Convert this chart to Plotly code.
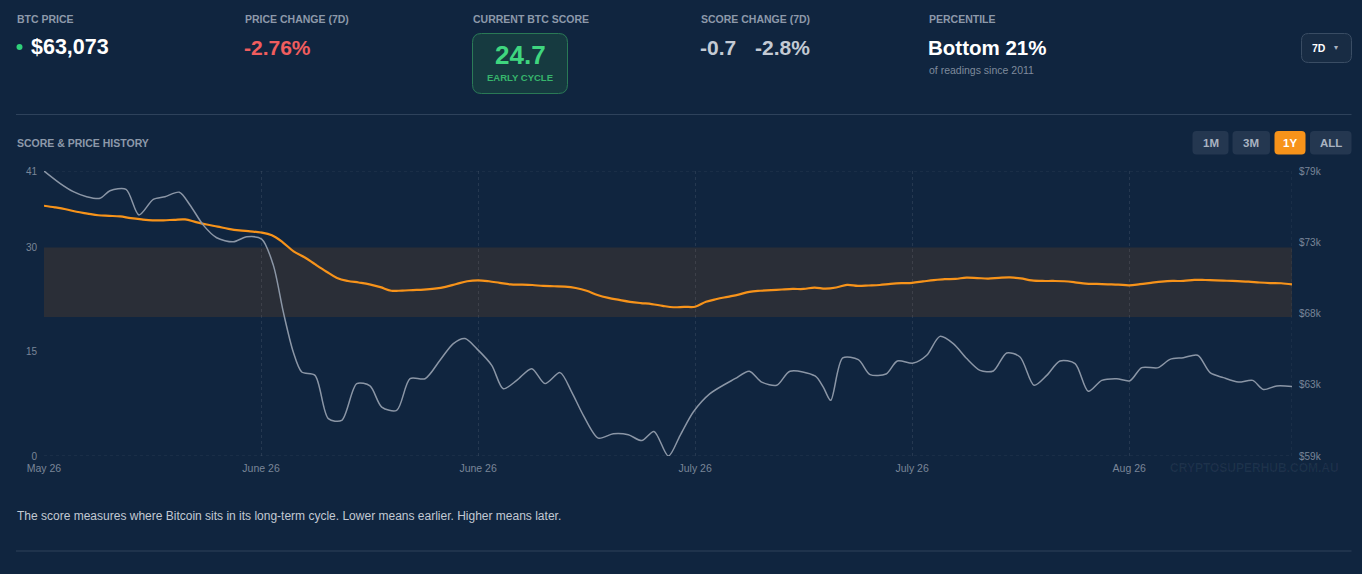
import math
import plotly.graph_objects as go

# page / plot geometry (pixels)
W, H = 1362, 574
L, R, T, B = 44, 70, 171, 118

# score (left axis), one value per reading, 116 readings over the 1Y view
SCORE = [36.0, 35.77, 35.5, 35.14, 34.88, 34.63, 34.55, 34.46, 34.21, 34.03,
         33.9, 33.91, 33.98, 34.03, 33.65, 33.3, 33.0, 32.68, 32.45, 32.32,
         32.15, 31.75, 30.74, 29.44, 28.6, 27.56, 26.55, 25.61, 25.18, 24.96,
         24.7, 24.29, 23.77, 23.8, 23.87, 23.94, 24.08, 24.33, 24.75, 25.14,
         25.27, 25.14, 24.91, 24.69, 24.66, 24.6, 24.46, 24.42, 24.37, 24.17,
         23.78, 23.16, 22.74, 22.45, 22.18, 22.0, 21.86, 21.6, 21.4, 21.46,
         21.47, 22.19, 22.58, 22.9, 23.22, 23.62, 23.77, 23.85, 23.95, 24.03,
         24.03, 24.23, 24.07, 24.24, 24.62, 24.47, 24.53, 24.6, 24.75, 24.86,
         24.92, 25.11, 25.3, 25.44, 25.48, 25.66, 25.6, 25.53, 25.63, 25.69,
         25.55, 25.27, 25.18, 25.18, 25.14, 24.99, 24.79, 24.75, 24.7, 24.65,
         24.56, 24.72, 24.91, 25.09, 25.18, 25.18, 25.34, 25.32, 25.27, 25.21,
         25.15, 25.09, 24.96, 24.88, 24.85, 24.7]

# BTC price (right axis, log), read at its turning points
PRICE_X = [0.0, 1.47, 2.70, 3.93, 5.16, 6.08, 7.56, 8.75, 10.07, 11.15,
           12.47, 13.45, 14.68, 15.91, 17.44, 18.68, 20.06, 21.13, 22.05, 22.97,
           23.75, 24.97, 26.20, 27.43, 28.82, 30.04, 31.12, 32.50, 33.73, 35.11,
           36.49, 37.72, 38.80, 39.87, 41.26, 42.32, 43.56, 44.94, 46.17, 47.55,
           48.63, 49.70, 51.08, 52.46, 53.84, 55.08, 56.21, 57.53, 58.61, 59.83,
           61.37, 63.67, 64.99, 66.14, 67.52, 68.74, 71.05, 71.81, 72.49, 73.60,
           75.04, 76.12, 77.59, 78.63, 80.10, 81.34, 82.56, 83.79, 85.03, 86.25,
           87.48, 88.71, 89.94, 91.23, 92.40, 93.62, 95.01, 96.23, 97.47, 98.85,
           100.07, 101.15, 102.68, 103.76, 104.99, 106.31, 107.45, 108.67, 110.06, 111.38,
           112.36, 113.59, 115.0]
PRICE = [79000, 78010, 77350, 76950, 76820, 77420, 77530, 75520, 76740, 76950,
         77300, 76300, 74740, 73780, 73470, 73850, 73680, 71740, 68380, 65630,
         64300, 64080, 61300, 61190, 63540, 63390, 62030, 61820, 63860, 63860,
         65080, 66200, 66540, 65860, 64740, 63210, 63750, 64520, 63540, 64260,
         62990, 61510, 60090, 60360, 60300, 59940, 60500, 59000, 60250, 61720,
         62890, 63860, 64350, 63640, 63430, 64350, 64040, 63310, 62460, 65230,
         65120, 64130, 64170, 65030, 64890, 65410, 66690, 66200, 65190, 64410,
         64370, 65570, 65300, 63430, 64080, 65030, 64860, 63040, 63750, 63860,
         63730, 64590, 64590, 65140, 65250, 65410, 64260, 63930, 63640, 63750,
         63160, 63390, 63360]

X_TICKS = [0, 20, 40, 60, 80, 100]
X_LABELS = ["May 26", "June 26", "June 26", "July 26", "July 26", "Aug 26"]
X_MAX = 115
SCORE_TICKS = [0, 15, 30, 41]
PRICE_MIN, PRICE_MAX = 59000, 79000
BAND = (20, 30)  # early-cycle zone

BG = "#10253f"
LABEL = "#8d99aa"
TICK = "#7a8698"
LINE = "#2e425b"
FONT = "Liberation Sans, Arial, sans-serif"


def fx(px):
    return (px - L) / (W - L - R)


def fy(py):
    return (H - B - py) / (H - T - B)


def rrect(x0, y0, x1, y1, r):
    pts = [("M", x0 + r, y0), ("L", x1 - r, y0), ("Q", x1, y0, x1, y0 + r),
           ("L", x1, y1 - r), ("Q", x1, y1, x1 - r, y1), ("L", x0 + r, y1),
           ("Q", x0, y1, x0, y1 - r), ("L", x0, y0 + r), ("Q", x0, y0, x0 + r, y0)]
    out = ""
    for p in pts:
        cmd, coords = p[0], p[1:]
        xy = []
        for i in range(0, len(coords), 2):
            xy.append(f"{fx(coords[i]):.5f},{fy(coords[i + 1]):.5f}")
        out += cmd + " " + " ".join(xy) + " "
    return out + "Z"


annotations = []


def text(px, py, s, size, color, anchor="left", bold=False):
    annotations.append(dict(
        x=fx(px), y=fy(py), xref="paper", yref="paper",
        text=f"<b>{s}</b>" if bold else s, showarrow=False,
        xanchor=anchor, yanchor="middle",
        font=dict(family=FONT, size=size, color=color)))


fig = go.Figure()

fig.add_trace(go.Scatter(
    x=PRICE_X, y=PRICE, mode="lines", yaxis="y2",
    line=dict(color="#8b96a6", width=1.5, shape="spline", smoothing=0.8),
    hoverinfo="skip"))
fig.add_trace(go.Scatter(
    x=list(range(len(SCORE))), y=SCORE, mode="lines",
    line=dict(color="#f7931a", width=2.2, shape="spline", smoothing=1.0),
    hoverinfo="skip"))

shapes = [
    # early cycle band
    dict(type="rect", xref="x", yref="y", x0=0, x1=X_MAX, y0=BAND[0], y1=BAND[1],
         fillcolor="#2a2e37", line_width=0, layer="below"),
    # top / bottom / right dotted grid
    dict(type="line", xref="x", yref="y", x0=0, x1=X_MAX, y0=SCORE_TICKS[-1], y1=SCORE_TICKS[-1],
         line=dict(color="rgba(255,255,255,0.09)", width=1, dash="dot")),
    dict(type="line", xref="x", yref="y", x0=0, x1=X_MAX, y0=0, y1=0,
         line=dict(color="rgba(255,255,255,0.09)", width=1, dash="dot")),
    dict(type="line", xref="x", yref="paper", x0=X_MAX, x1=X_MAX, y0=0, y1=1,
         line=dict(color="rgba(255,255,255,0.09)", width=1, dash="dot")),
    # separators
    dict(type="line", xref="paper", yref="paper", x0=fx(16), x1=fx(1351.5), y0=fy(114.5), y1=fy(114.5),
         line=dict(color=LINE, width=1)),
    dict(type="line", xref="paper", yref="paper", x0=fx(16), x1=fx(1351.5), y0=fy(551), y1=fy(551),
         line=dict(color=LINE, width=1)),
    # green live dot
    dict(type="circle", xref="paper", yref="paper", x0=fx(16.5), x1=fx(22.5), y0=fy(44), y1=fy(50),
         fillcolor="#2fd07a", line_width=0),
    # score box
    dict(type="path", xref="paper", yref="paper", path=rrect(472.5, 33.5, 567.5, 93.5, 9),
         fillcolor="#163a40", line=dict(color="#2b7b57", width=1)),
    # 7D dropdown
    dict(type="path", xref="paper", yref="paper", path=rrect(1301.5, 33.5, 1351.5, 62.5, 7),
         fillcolor="#182c44", line=dict(color="#3a4d64", width=1)),
]

# range buttons
buttons = [("1M", 1192.5, 1228.5, False), ("3M", 1232.5, 1270, False),
           ("1Y", 1274.5, 1305.5, True), ("ALL", 1310, 1351.5, False)]
for label, x0, x1, active in buttons:
    shapes.append(dict(type="path", xref="paper", yref="paper", path=rrect(x0, 131, x1, 154.5, 4),
                       fillcolor="#f7931a" if active else "#243750", line_width=0))
    text((x0 + x1) / 2, 143, label, 11.5, "#ffffff" if active else "#a9b3c1", anchor="center", bold=True)

# header
text(15, 19, "BTC PRICE", 10.5, LABEL, bold=True)
text(29, 47, "$63,073", 21.5, "#ffffff", bold=True)
text(243, 19, "PRICE CHANGE (7D)", 10.5, LABEL, bold=True)
text(242, 47, "-2.76%", 21, "#f05d5e", bold=True)
text(471, 19, "CURRENT BTC SCORE", 10.5, LABEL, bold=True)
text(520, 55, "24.7", 26, "#3fd67f", anchor="center", bold=True)
text(520, 77.5, "EARLY CYCLE", 9.5, "#36b56c", anchor="center", bold=True)
text(699, 19, "SCORE CHANGE (7D)", 10.5, LABEL, bold=True)
text(698, 47, "-0.7", 21, "#c3cad4", bold=True)
text(753, 47, "-2.8%", 21, "#c3cad4", bold=True)
text(927, 19, "PERCENTILE", 10.5, LABEL, bold=True)
text(926, 47, "Bottom 21%", 20.5, "#ffffff", bold=True)
text(927, 69.5, "of readings since 2011", 10.5, "#7f8b9c")
text(1319, 48, "7D", 10.5, "#ffffff", anchor="center", bold=True)
text(1336, 47.5, "▾", 8, "#a9b3c1", anchor="center")
text(15, 143, "SCORE &amp; PRICE HISTORY", 10.5, LABEL, bold=True)
text(1254, 468, "CRYPTOSUPERHUB.COM.AU", 12, "rgba(255,255,255,0.06)", anchor="center", bold=True)
text(15, 516, "The score measures where Bitcoin sits in its long-term cycle. "
     "Lower means earlier. Higher means later.", 12, "#c2c9d3")

price_ticks = [PRICE_MIN * (PRICE_MAX / PRICE_MIN) ** (k / 4) for k in range(5)]
price_labels = [f"${v / 1000:.0f}k" for v in price_ticks]

fig.update_layout(
    width=W, height=H,
    margin=dict(l=L, r=R, t=T, b=B),
    paper_bgcolor=BG, plot_bgcolor=BG,
    showlegend=False,
    font=dict(family=FONT, color=TICK, size=10),
    xaxis=dict(range=[0, X_MAX], tickvals=X_TICKS, ticktext=X_LABELS,
               showgrid=True, gridcolor="rgba(255,255,255,0.09)", griddash="dot",
               zeroline=False, showline=False, ticks="", ticklabelstandoff=4,
               tickfont=dict(size=10.5, color=TICK)),
    yaxis=dict(range=[0, SCORE_TICKS[-1]], tickvals=SCORE_TICKS, showgrid=False,
               zeroline=False, showline=False, ticks="", ticklabelstandoff=6,
               tickfont=dict(size=10, color=TICK)),
    yaxis2=dict(type="log", overlaying="y", side="right",
                range=[math.log10(PRICE_MIN), math.log10(PRICE_MAX)],
                tickvals=price_ticks, ticktext=price_labels, showgrid=False,
                zeroline=False, showline=False, ticks="", ticklabelstandoff=6,
                tickfont=dict(size=10, color=TICK)),
    shapes=shapes,
    annotations=annotations,
)

fig.write_html("out.html", config={"displayModeBar": False},
               post_script="document.body.style.margin='0';")
